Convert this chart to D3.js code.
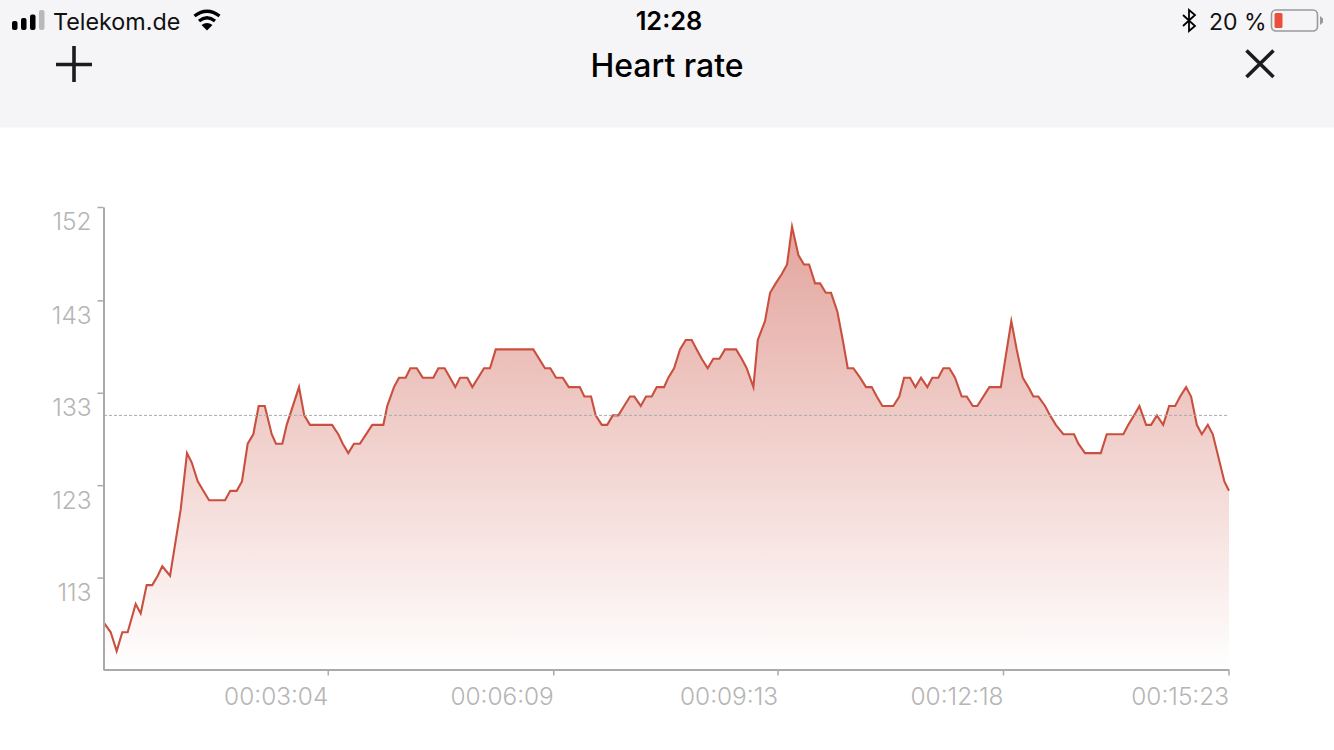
<!DOCTYPE html>
<html><head><meta charset="utf-8">
<script src="https://cdn.jsdelivr.net/npm/d3@7"></script>
<style>
html,body{margin:0;padding:0;background:#fff;width:1334px;height:750px;overflow:hidden}
svg{display:block;font-family:Inter,"Noto Sans",sans-serif}
.axis text{fill:#b5b5b5;font-size:24.4px;font-weight:300;font-family:Inter,sans-serif}
.axis path,.axis line{stroke:#aaa}
.axis path{stroke-width:2}
.axis line{stroke-width:1.5}
</style></head><body>
<svg id="c" width="1334" height="750"></svg>
<script>
const title = "Heart rate";
const carrier = "Telekom.de";
const clock = "12:28";
const batteryText = "20 %";
const averageRate = 130;
const yTickValues = [112.8,122.6,132.4,142.2,152.1];
const yTickLabels = ["113","123","133","143","152"];
const xTickValues = [184,369,553,738,923];
const seconds = [0,5.5,10.4,15,19.4,26,30.1,35,39.6,44.1,47.8,54.2,62.9,68.1,72,76.9,81.5,86.2,99.3,103.6,108.9,113.2,117.9,122.5,126.9,131.9,137.6,141.1,146.3,149.9,160,164.3,169,187.1,192.2,195.9,200.4,205.1,210,220.1,229.2,232.4,237.9,242,247.5,251.3,256.6,261.5,270.2,274.3,279.5,288.2,292.1,298.1,302.2,311.8,316.7,321.4,352.2,361.8,366.2,370.9,376.4,381.3,390.3,394.1,399.6,403.4,408.4,412.9,417.4,422,426.7,431.6,435.1,440.4,444.7,449.4,453.5,459.5,463,467.7,472.6,477.3,482.2,486.3,490.4,495.3,499.9,504.9,509.5,518.6,523.2,527.3,532.8,536.4,542.3,546.5,551.1,556.1,560.4,564.5,569.7,574.3,578.5,583.4,587.5,592.2,596.5,601.7,606.1,610.2,614.8,620.3,625.2,629.9,634,638.6,647.6,652.5,656.4,661.3,665.7,670.3,675.5,679.6,684.5,688.6,693.6,698.2,703.7,707.8,712.8,716.5,726.4,735.8,744.4,748.8,753.8,758.4,762.5,766.6,772.1,776.2,780.9,787.1,795.9,799.4,804.9,817.8,822.7,836.3,840.4,845.1,849.5,855,859.1,863.8,869,873.9,878.8,882.9,887.8,891.9,896.6,900.7,905.6,909.7,919.2,923];
const heartRate = [108,107,105,107,107,110,109,112,112,113,114,113,120,126,125,123,122,121,121,122,122,123,127,128,131,131,128,127,127,129,133,130,129,129,128,127,126,127,127,129,129,131,133,134,134,135,135,134,134,135,135,133,134,134,133,135,135,137,137,135,135,134,134,133,133,132,132,130,129,129,130,130,131,132,132,131,132,132,133,133,134,135,137,138,138,137,136,135,136,136,137,137,136,135,133,138,140,143,144,145,146,150,147,146,146,144,144,143,143,141,138,135,135,134,133,133,132,131,131,132,134,134,133,134,133,134,134,135,135,134,132,132,131,131,133,133,140,137,134,133,132,132,131,130,129,128,128,127,126,126,128,128,129,130,131,129,129,130,129,131,131,132,133,132,129,128,129,128,123,122];

const svg = d3.select("#c");
const x = d3.scaleLinear().domain([0,923]).range([104,1229]);
const y = d3.scaleLinear().domain([103,152.1]).range([670,207]);
const pts = seconds.map((s,i)=>[s,heartRate[i]]);

// header
svg.append("rect").attr("width",1334).attr("height",127.5).attr("fill","#f5f5f7");
const ink="#000";
[[12,21],[21,18],[30,14.5]].forEach(b=>svg.append("rect").attr("x",b[0]).attr("y",b[1]).attr("width",5.5).attr("height",30-b[1]).attr("rx",2).attr("fill",ink));
svg.append("rect").attr("x",39).attr("y",10).attr("width",5.5).attr("height",20).attr("rx",2).attr("fill","#b9b9bb");
svg.append("text").attr("x",53).attr("y",29.5).attr("font-size",23.3).attr("fill","#111").text(carrier);
const wifi=svg.append("g").attr("fill","none").attr("stroke",ink).attr("stroke-width",3.4);
wifi.append("path").attr("d","M194.5 16 Q207 6.5 219.5 16");
wifi.append("path").attr("d","M199 21 Q207 14.5 215 21");
svg.append("path").attr("d","M201.5 25 Q207 21 212.5 25 L207 30.5Z").attr("fill",ink);
svg.append("text").attr("x",669).attr("y",29.5).attr("text-anchor","middle").attr("font-size",25.4).attr("font-weight",600).attr("fill","#000").text(clock);
svg.append("path").attr("d","M1183 15 L1195 26 L1189 31 L1189 10 L1195 15 L1183 26").attr("fill","none").attr("stroke",ink).attr("stroke-width",1.8);
svg.append("text").attr("x",1209).attr("y",29.5).attr("font-size",23).attr("fill","#111").text(batteryText);
svg.append("rect").attr("x",1271.5).attr("y",10).attr("width",46).attr("height",21).attr("rx",4.5).attr("fill","none").attr("stroke","#999").attr("stroke-width",1.6);
svg.append("rect").attr("x",1274.5).attr("y",13).attr("width",8).attr("height",15).attr("rx",1.5).attr("fill","#ec4e3e");
svg.append("path").attr("d","M1320 16 L1323 18.5 L1323 22.5 L1320 25Z").attr("fill","#999");
svg.append("path").attr("d","M56 64.5H92M74 46V82").attr("stroke","#1c1c1e").attr("stroke-width",3.6).attr("fill","none");
svg.append("path").attr("d","M1246.5 50.5L1273.5 77M1273.5 50.5L1246.5 77").attr("stroke","#1c1c1e").attr("stroke-width",3.6).attr("fill","none");
svg.append("text").attr("x",667).attr("y",76.5).attr("text-anchor","middle").attr("font-size",32).attr("font-weight",500).attr("fill","#000").text(title);

// gradient
const grad=svg.append("defs").append("linearGradient").attr("id","g").attr("x1",0).attr("y1",0).attr("x2",0).attr("y2",1);
grad.append("stop").attr("offset",0).attr("stop-color","#c84b3c").attr("stop-opacity",0.5);
grad.append("stop").attr("offset",1).attr("stop-color","#c84b3c").attr("stop-opacity",0);

svg.append("path").datum(pts).attr("fill","url(#g)")
  .attr("d",d3.area().x(d=>x(d[0])).y0(y(103)).y1(d=>y(d[1])));
svg.append("path").datum(pts).attr("fill","none").attr("stroke","#c9503f").attr("stroke-width",2.1)
  .attr("stroke-linejoin","miter").attr("stroke-miterlimit",12).attr("d",d3.line().x(d=>x(d[0])).y(d=>y(d[1])));

// average
svg.append("line").attr("x1",x(0)).attr("x2",x(923)).attr("y1",y(averageRate)).attr("y2",y(averageRate))
  .attr("stroke","#aaa").attr("stroke-width",1).attr("stroke-dasharray","3,2");

// axes
const fmt=s=>[Math.floor(s/3600),Math.floor(s/60)%60,s%60].map(n=>String(n).padStart(2,"0")).join(":");
const xa=svg.append("g").attr("class","axis").attr("transform",`translate(-0.5,${y(103)-0.5})`)
  .call(d3.axisBottom(x).tickValues(xTickValues).tickFormat(fmt).tickSize(6).tickSizeOuter(0).tickPadding(12));
xa.selectAll("text").attr("text-anchor","end").attr("dx",0);
const ya=svg.append("g").attr("class","axis").attr("transform",`translate(${x(0)-0.5},0)`)
  .call(d3.axisLeft(y).tickValues(yTickValues).tickFormat((d,i)=>yTickLabels[i]).tickSize(6).tickSizeOuter(0).tickPadding(6));
ya.selectAll("text").attr("dy","0.94em");
</script>
</body></html>
